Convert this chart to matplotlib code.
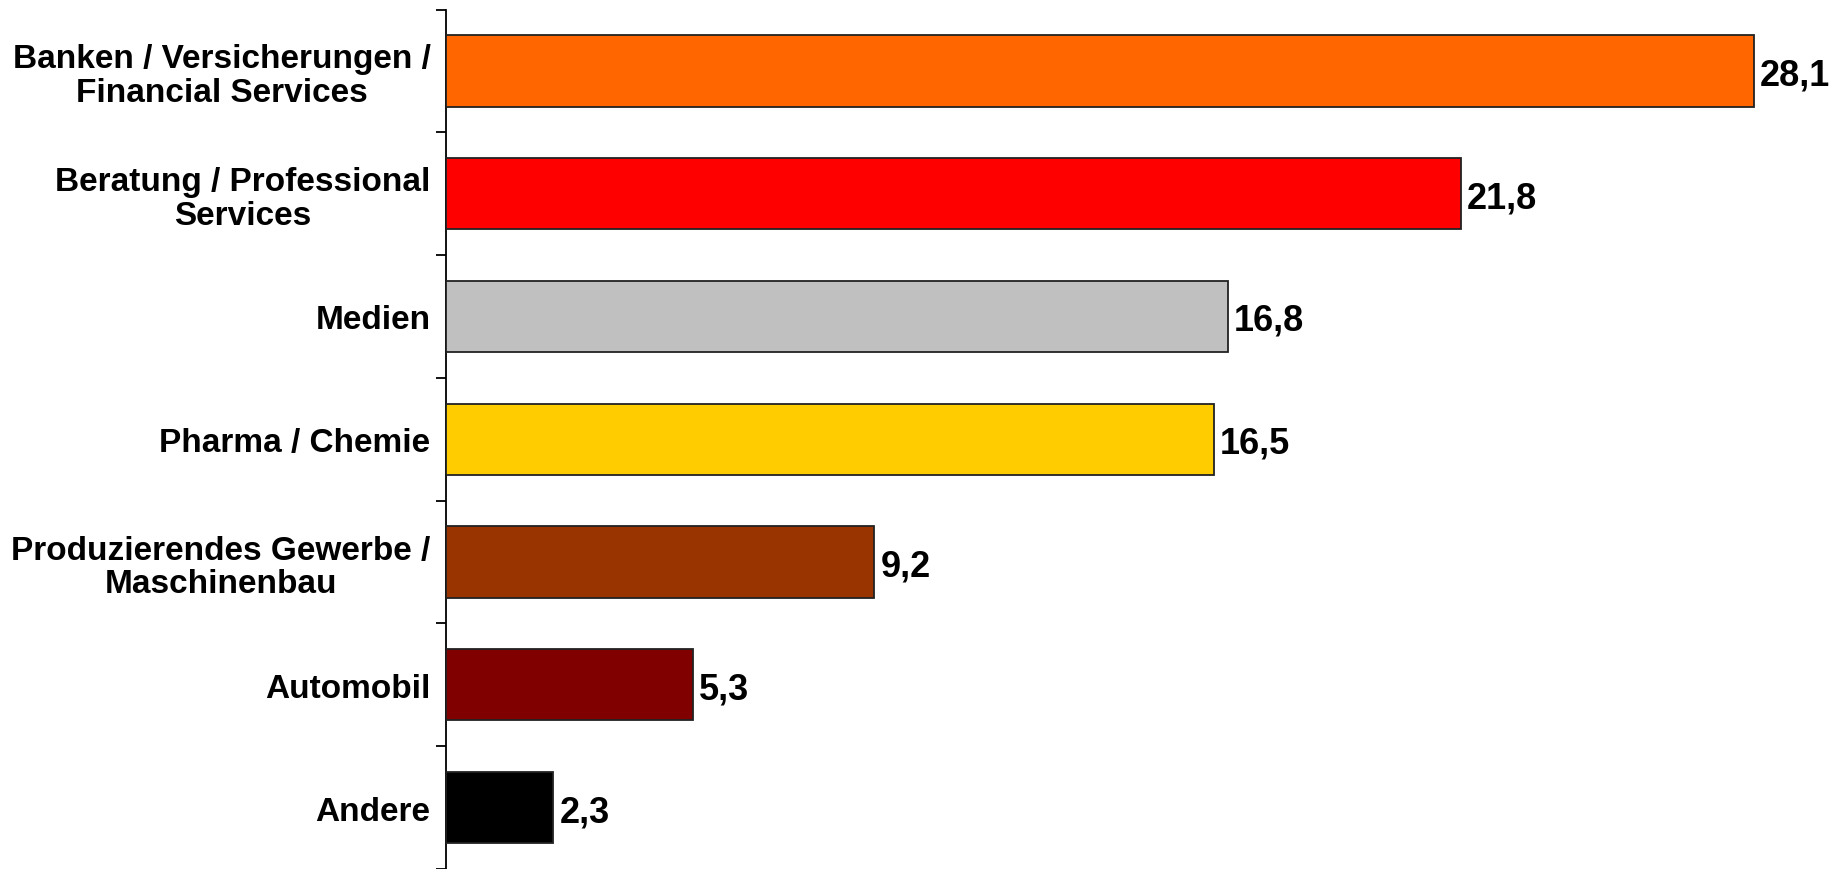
import matplotlib
matplotlib.use("Agg")
import matplotlib.pyplot as plt
from matplotlib.ticker import FixedLocator

categories = [
    "Banken / Versicherungen /\nFinancial Services",
    "Beratung / Professional\nServices",
    "Medien",
    "Pharma / Chemie",
    "Produzierendes Gewerbe /\nMaschinenbau",
    "Automobil",
    "Andere",
]
values = [28.1, 21.8, 16.8, 16.5, 9.2, 5.3, 2.3]
value_labels = ["28,1", "21,8", "16,8", "16,5", "9,2", "5,3", "2,3"]
colors = ["#FF6600", "#FF0000", "#C0C0C0", "#FFCC00", "#993300", "#800000", "#000000"]

plt.rcParams['font.family'] = ['Liberation Sans', 'DejaVu Sans']

W, H = 1849, 870
fig = plt.figure(figsize=(W / 100, H / 100), dpi=100)
left = 446.5 / W
top = 10.5 / H
ax = fig.add_axes([left, 0, 1 - left, 1 - top])

y = list(range(len(categories)))
ax.barh(y, values, height=0.58, color=colors, edgecolor="#222222", linewidth=1.3, zorder=3)

ax.set_xlim(0, (W - 446.5) / ((1753.7 - 446.5) / 28.1))
ax.set_ylim(len(categories) - 0.5, -0.5)

for yi, v, lab in zip(y, values, value_labels):
    ax.annotate(lab, xy=(v, yi), xytext=(6, 0), textcoords="offset pixels",
                ha="left", va="center_baseline", fontsize=26, fontweight="bold", color="black")

ax.set_yticks(y)
ax.set_yticklabels(categories, fontsize=24, fontweight="bold", multialignment="center", linespacing=1.12)
ax.yaxis.set_minor_locator(FixedLocator([i - 0.5 for i in range(len(categories) + 1)]))
ax.tick_params(axis="y", which="major", length=0, pad=11.5)
ax.tick_params(axis="y", which="minor", length=7, width=1.3, color="black")

for s in ["top", "right", "bottom"]:
    ax.spines[s].set_visible(False)
ax.spines["left"].set_linewidth(1.3)
ax.set_xticks([])
ax.patch.set_alpha(0)

fig.savefig("out.png", dpi=100, facecolor="white")
